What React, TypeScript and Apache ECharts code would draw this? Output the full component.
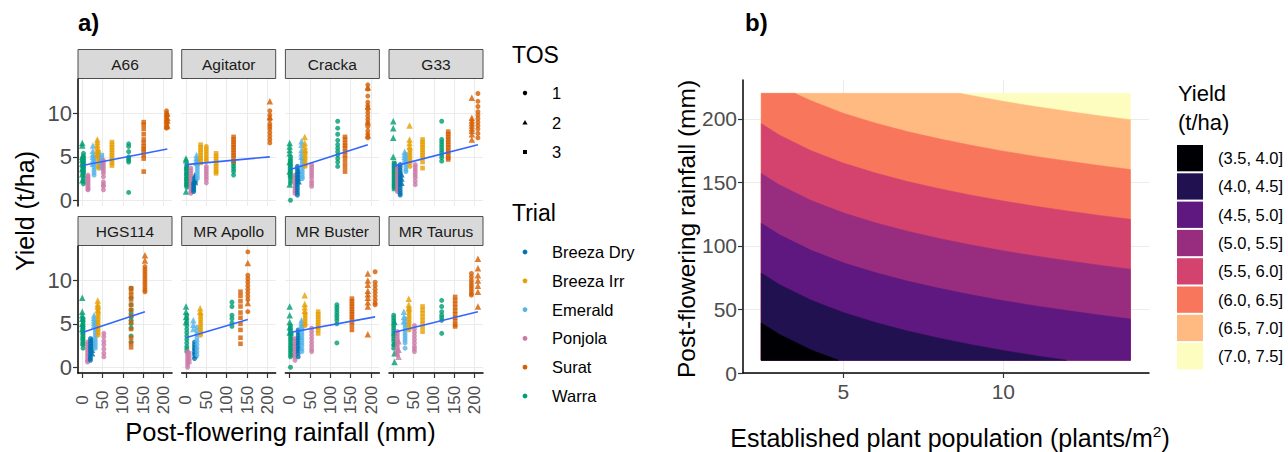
import React, { useEffect, useRef } from 'react';
import * as echarts from 'echarts';

// ---------------- DATA ----------------
const trials = ['Breeza Dry', 'Breeza Irr', 'Emerald', 'Ponjola', 'Surat', 'Warra'];
const trialColors = ['#0072B2', '#E69F00', '#56B4E9', '#CC79A7', '#D55E00', '#009E73'];
const tosLevels = ['1', '2', '3'];
const facetNames = ['A66', 'Agitator', 'Cracka', 'G33', 'HGS114', 'MR Apollo', 'MR Buster', 'MR Taurus'];
const rainTicks = [0, 50, 100, 150, 200];
const yieldTicks = [0, 5, 10];

// group: [trialIndex, TOS, post-flowering rainfall (mm), yields (t/ha)]
const a66 = [
  [5, 2, 0, [6.6, 6.3, 5.0, 4.7, 4.2, 3.6, 3.0, 2.3]],
  [5, 1, 3, [5.4, 5.1, 4.9, 4.7, 4.5, 4.3, 4.1, 3.9, 3.7, 3.5, 3.3, 3.1, 2.8, 2.5, 2.2, 1.9]],
  [5, 3, 1, [4.8, 4.4, 4.0, 3.6, 3.2]],
  [3, 1, 14, [2.9, 2.7, 2.5, 2.3, 2.1, 1.9, 1.7, 1.5, 1.3, 1.2]],
  [2, 2, 26, [6.3, 5.7, 5.3, 5.0, 4.6, 4.2]],
  [2, 1, 29, [5.0, 4.7, 4.4, 4.1, 3.8, 3.5, 3.2, 2.9]],
  [1, 2, 37, [7.0, 6.7, 6.4, 6.1, 5.8, 5.5, 5.2]],
  [1, 1, 40, [5.6, 5.3, 5.0, 4.8, 4.5, 4.2, 3.9, 3.7]],
  [2, 3, 48, [5.2, 4.9, 4.6, 4.3, 4.0, 3.7]],
  [3, 1, 52, [4.6, 4.3, 4.0, 3.7, 3.4, 3.1, 2.7, 2.1, 1.8, 1.6, 1.2]],
  [1, 3, 73, [6.7, 6.4, 6.1, 5.8, 5.5, 5.2, 4.9, 4.6, 4.3, 4.0]],
  [5, 1, 114, [6.5, 6.2, 5.6, 5.0, 4.8, 4.6, 4.4, 0.9]],
  [4, 3, 151, [9.0, 8.7, 8.2, 7.6, 7.0, 6.6, 6.2, 5.9, 5.6, 5.2, 4.8, 3.3]],
  [4, 1, 207, [10.3, 10.0, 9.7, 9.4, 9.1, 8.8, 8.5, 8.3]],
  [4, 2, 209, [10.0, 9.5, 9.2, 8.6]],
  [4, 3, 208, [9.8, 9.0, 8.4]],
];
const agitator = [
  [5, 2, 0, [4.8, 4.6, 1.0]],
  [5, 1, 2, [4.1, 3.9, 3.7, 3.5, 3.3, 3.1, 2.9, 2.7, 2.5, 2.3, 2.1, 1.9, 1.7, 1.5]],
  [5, 3, 1, [3.6, 3.0, 2.4, 1.8]],
  [3, 1, 12, [3.7, 3.4, 3.1, 2.8, 2.5, 2.2, 1.9, 1.6, 1.3, 1.0, 0.8]],
  [0, 1, 19, [2.0, 1.8, 1.6, 1.4, 1.2, 1.0]],
  [0, 2, 22, [2.9, 2.7, 2.5, 2.3, 2.1]],
  [2, 2, 26, [5.2, 4.9, 4.6, 4.3]],
  [2, 1, 28, [4.6, 4.3, 4.0, 3.7, 3.4, 3.1, 2.8, 2.5]],
  [1, 3, 36, [6.4, 6.1, 5.8, 5.5, 5.2, 4.9, 4.6, 4.3]],
  [1, 1, 50, [6.2, 5.9, 5.6, 5.3, 5.0, 4.7, 4.5]],
  [3, 1, 50, [3.9, 3.6, 3.3, 3.0, 2.7, 2.4, 2.0]],
  [1, 3, 74, [5.4, 5.1, 4.8, 4.5, 4.2, 3.9, 3.6, 3.3, 3.1]],
  [5, 1, 117, [4.5, 4.2, 3.9, 3.6, 3.3, 2.9]],
  [4, 3, 117, [7.3, 7.0, 6.7, 6.4, 6.1, 5.8, 5.5, 5.2, 4.9, 4.5]],
  [4, 2, 206, [11.4, 9.6]],
  [4, 1, 206, [10.3, 9.8, 9.3, 8.8, 8.5, 8.2, 7.8, 7.4, 7.0, 6.6]],
];
const cracka = [
  [5, 2, 0, [6.6, 6.2, 5.8, 5.4, 4.4, 3.3, 1.8]],
  [5, 1, 2, [5.0, 4.7, 4.4, 4.1, 3.8, 3.5, 3.2, 2.9, 2.6, 2.3, 2.0, 0.0]],
  [5, 3, 1, [4.5, 3.9, 3.4, 2.8]],
  [3, 1, 13, [2.9, 2.6, 2.3, 2.0, 1.7, 1.4, 1.1, 0.8]],
  [0, 1, 19, [3.9, 3.6, 3.3, 3.0, 2.7, 2.4, 2.1, 1.8, 1.5, 1.2, 0.9, 0.6]],
  [0, 2, 22, [3.4, 3.0, 2.6, 2.2]],
  [2, 2, 29, [6.8, 6.4, 5.8, 5.4, 5.0]],
  [2, 1, 31, [4.8, 4.5, 4.2, 3.9, 3.6, 3.3, 3.0, 2.7, 2.5]],
  [1, 2, 37, [7.3, 6.6, 6.2, 5.8]],
  [1, 1, 38, [5.6, 5.3, 5.0, 4.7, 4.4, 4.1, 3.9]],
  [3, 1, 54, [4.1, 3.8, 3.5, 3.2, 2.9, 2.6, 2.2, 1.9, 1.6]],
  [5, 1, 118, [9.1, 8.3, 7.6, 6.9, 6.4, 6.0, 5.6, 5.2, 4.8, 4.4, 3.9]],
  [4, 3, 136, [7.3, 7.0, 6.6, 6.3, 6.0, 5.6, 5.2, 4.8, 4.3, 3.8, 3.3]],
  [4, 1, 192, [13.3, 12.8, 12.0, 11.3, 10.9, 10.5, 10.1, 9.7, 9.3, 8.9, 8.5, 8.0, 7.6, 7.2]],
  [4, 2, 192, [13.0, 10.8, 9.0, 7.5]],
];
const g33 = [
  [5, 2, 0, [9.1, 8.3, 7.2, 5.0]],
  [5, 3, 2, [4.3, 4.0, 3.7, 3.4, 3.1, 2.8, 2.5, 2.2, 1.9, 1.6, 1.3]],
  [5, 1, 3, [4.2, 3.9, 3.6, 3.3, 3.0, 2.7, 2.4, 2.1, 1.8, 1.5]],
  [3, 1, 10, [3.9, 3.6, 3.3, 3.0, 2.7, 2.4, 2.1, 1.8, 1.5, 1.2, 1.0]],
  [0, 1, 17, [4.1, 3.8, 3.5, 3.2, 2.9, 2.6, 2.3, 2.0, 1.7, 1.4, 1.1, 0.8, 0.6]],
  [0, 2, 20, [3.0, 2.5, 2.0]],
  [2, 2, 28, [5.6, 5.3, 5.0, 4.7]],
  [2, 1, 31, [5.3, 5.0, 4.7, 4.4, 4.1, 3.8, 3.5, 3.3]],
  [1, 2, 40, [8.6, 7.0, 6.6, 6.2]],
  [1, 1, 41, [5.8, 5.5, 5.2, 4.9, 4.6, 4.3, 3.9]],
  [3, 1, 54, [4.1, 3.8, 3.5, 3.2, 2.9, 2.6, 2.2, 1.8]],
  [1, 3, 72, [7.0, 6.7, 6.4, 6.1, 5.8, 5.5, 5.2, 4.9, 4.4, 3.7]],
  [5, 1, 119, [9.1, 7.0, 6.7, 6.4, 6.1, 5.8, 5.5, 5.2, 4.9, 4.5]],
  [4, 3, 135, [7.9, 7.6, 7.3, 7.0, 6.7, 6.4, 6.1, 5.8, 5.5, 5.2, 4.9, 4.7]],
  [4, 2, 193, [11.8, 9.5, 9.2, 8.9, 8.6, 8.3, 8.0, 7.6, 7.0]],
  [4, 1, 208, [12.3, 11.4, 10.8, 10.2, 9.8, 9.4, 9.0, 8.6, 8.2, 7.7, 7.2]],
];
const hgs114 = [
  [5, 2, 0, [8.0, 6.4, 6.0, 5.6, 5.0, 4.4]],
  [5, 1, 2, [5.6, 5.3, 5.0, 4.7, 4.4, 4.1, 3.8, 3.5, 3.2, 2.9, 2.6, 2.2]],
  [5, 3, 1, [4.6, 3.9, 3.3, 2.7]],
  [3, 1, 13, [2.9, 2.6, 2.3, 2.0, 1.7, 1.4, 1.1, 0.8, 0.6]],
  [0, 1, 20, [3.3, 3.0, 2.7, 2.4, 2.1, 1.8, 1.5, 1.2, 1.0, 0.8]],
  [0, 2, 24, [3.2, 2.8, 2.4, 2.0, 1.6]],
  [2, 2, 29, [6.0, 5.7, 5.4, 5.1, 4.8]],
  [2, 1, 32, [5.2, 4.9, 4.6, 4.3, 4.0, 3.7, 3.4, 3.1, 2.8, 2.5, 2.2]],
  [1, 2, 38, [7.7, 7.3, 7.0, 6.6]],
  [1, 1, 39, [6.8, 6.4, 6.1, 5.8, 5.5, 5.2, 4.9, 4.6, 4.3, 4.0, 3.7]],
  [3, 1, 53, [3.9, 3.5, 3.0, 2.6, 2.1, 1.6, 1.2]],
  [5, 1, 120, [9.1, 8.0, 7.2, 6.6, 6.2, 5.8, 5.4, 5.0, 4.5, 3.6, 2.9]],
  [4, 3, 120, [9.1, 8.7, 8.3, 7.8, 7.2, 6.6, 5.9, 5.2, 4.4, 3.4, 2.8, 2.3]],
  [4, 2, 154, [12.9, 12.3]],
  [4, 1, 154, [11.6, 11.3, 11.0, 10.7, 10.4, 10.1, 9.8, 9.5, 9.2, 8.9, 8.7]],
];
const mrApollo = [
  [5, 2, 0, [7.0, 6.4, 5.8, 5.2]],
  [5, 1, 2, [6.0, 5.6, 5.2, 4.8, 4.4, 4.0, 3.6, 3.2, 2.8, 2.4, 2.1, 1.8]],
  [3, 1, 4, [1.8, 1.5, 1.2, 0.9, 0.6, 0.3, 0.0]],
  [3, 3, 8, [1.6, 1.1, 0.6]],
  [0, 1, 21, [2.9, 2.6, 2.3, 2.0, 1.7, 1.4, 1.0]],
  [0, 2, 23, [2.4, 1.9, 1.4]],
  [2, 2, 18, [5.4, 4.9, 4.4]],
  [2, 1, 27, [4.6, 4.2, 3.8, 3.4, 3.0, 2.6, 2.2, 1.8, 1.4]],
  [1, 2, 35, [6.8, 6.4]],
  [1, 1, 36, [6.1, 5.8, 5.5, 5.2, 4.9, 4.6, 4.3, 4.0, 3.7]],
  [5, 1, 113, [7.5, 7.0, 6.0, 5.6, 5.1, 4.7]],
  [4, 3, 134, [8.7, 8.2, 7.6, 7.0, 6.3, 5.7, 5.0, 4.3, 3.4, 2.7]],
  [4, 1, 152, [13.3, 10.6, 10.2, 9.8, 9.4, 9.0, 8.6, 8.2, 7.8, 6.4]],
  [4, 2, 152, [12.0, 7.4]],
];
const mrBuster = [
  [5, 2, 0, [7.0, 6.0, 5.2, 4.6, 4.0]],
  [5, 1, 2, [4.8, 4.5, 4.2, 3.9, 3.6, 3.3, 3.0, 2.7, 2.4, 2.1, 1.8, 1.5, 1.2, 0.0]],
  [5, 3, 4, [3.8, 3.2, 2.6, 2.0, 1.4]],
  [3, 1, 13, [3.3, 3.0, 2.7, 2.4, 2.1, 1.8, 1.5, 1.2, 0.8]],
  [0, 1, 21, [4.3, 4.0, 3.7, 3.4, 3.1, 2.8, 2.5, 2.2, 1.9, 1.6, 1.2]],
  [0, 2, 24, [3.5, 2.9, 2.3]],
  [2, 2, 29, [5.4, 5.1, 4.8]],
  [2, 1, 30, [4.6, 4.3, 4.0, 3.7, 3.4, 3.1, 2.8, 2.5, 2.1, 1.8]],
  [1, 2, 37, [8.3, 7.3, 6.9, 6.5]],
  [1, 1, 38, [6.2, 5.9, 5.6, 5.3, 5.0, 4.8]],
  [3, 1, 54, [4.5, 4.1, 3.7, 3.3, 2.9, 2.5, 2.1, 1.8]],
  [1, 3, 70, [6.4, 6.1, 5.8, 5.5, 5.2, 4.9, 4.6, 4.3, 3.9]],
  [5, 1, 116, [7.2, 6.9, 6.6, 6.3, 6.0, 5.7, 5.4, 5.0, 2.8]],
  [4, 3, 153, [7.9, 7.6, 7.3, 7.0, 6.7, 6.4, 6.1, 5.8, 5.5, 5.2, 4.8, 4.3]],
  [4, 2, 192, [10.8, 10.0, 9.5, 8.8, 8.4, 8.0, 7.5, 7.0, 3.8]],
  [4, 1, 210, [11.0, 9.8, 9.4, 9.0, 8.6, 8.2, 7.8, 7.4, 7.2]],
];
const mrTaurus = [
  [5, 1, 1, [6.0, 5.7, 5.4, 5.1, 4.8, 4.5, 4.2, 3.9, 3.6, 3.3, 3.0, 2.6, 2.2]],
  [5, 2, 3, [5.2, 4.0, 2.8, 1.6, 0.6]],
  [3, 1, 10, [4.1, 3.8, 3.5, 3.2, 2.9, 2.6, 2.3, 2.0, 1.7, 1.4]],
  [3, 2, 13, [3.0, 2.0, 1.2]],
  [2, 2, 26, [6.4, 5.8, 5.3]],
  [2, 1, 29, [5.6, 5.2, 4.9, 4.6, 4.3, 4.0, 3.7, 3.4, 3.1, 2.8, 2.2]],
  [1, 2, 38, [7.9, 7.2, 6.8]],
  [1, 1, 39, [6.7, 6.4, 6.1, 5.8, 5.5, 5.2, 4.9, 4.6, 4.3]],
  [3, 1, 52, [4.8, 4.4, 4.0, 3.6, 3.2, 2.8, 2.4, 2.1, 1.8]],
  [1, 3, 72, [7.0, 6.6, 6.2, 5.8, 5.4, 5.0, 4.6, 4.1]],
  [5, 1, 119, [7.7, 7.0, 6.4, 6.0, 5.7, 5.4, 3.9]],
  [4, 3, 152, [8.1, 7.7, 7.3, 6.9, 6.5, 6.1, 5.7, 5.3, 4.9, 4.7]],
  [4, 1, 192, [10.8, 10.4, 10.0, 9.7, 9.4, 9.1, 8.8, 8.5, 8.3]],
  [4, 2, 208, [12.5, 11.4, 10.6, 10.0, 9.4, 8.7, 7.0]],
];
const facetGroups: any[] = [a66, agitator, cracka, g33, hgs114, mrApollo, mrBuster, mrTaurus];
// linear fit per facet: [xStart, yStart, xEnd, yEnd]
const trendLines = [
  [0, 4.0, 209, 5.9],
  [0, 4.1, 206, 5.0],
  [0, 3.5, 192, 6.4],
  [0, 3.9, 208, 6.4],
  [0, 4.0, 154, 6.4],
  [0, 3.4, 152, 5.5],
  [0, 4.0, 210, 5.8],
  [0, 4.0, 208, 6.4],
];

// panel b
const popTicks = [5, 10];
const rainTicksB = [0, 50, 100, 150, 200];
const yieldBands = ['(3.5, 4.0]', '(4.0, 4.5]', '(4.5, 5.0]', '(5.0, 5.5]', '(5.5, 6.0]', '(6.0, 6.5]', '(6.5, 7.0]', '(7.0, 7.5]'];
const bandColors = ['#000004', '#221150', '#5F187F', '#982D80', '#D3436E', '#F8765C', '#FEBA80', '#FCFDBF'];
const popRange = [2.44, 13.97];
const rainRange = [10, 220];
// contour boundaries [population, rainfall] for levels 4.0 ... 7.0
const boundary40 = [[2.44, 39.4], [3, 30.5], [4, 18.1], [4.85, 10]];
const boundary45 = [[2.44, 78.6], [3, 69.7], [4, 57.3], [5, 47.6], [6, 39.8], [7, 33.1], [8, 27.4], [9, 22.3], [10, 17.7], [11, 13.6], [11.97, 10]];
const boundary50 = [[2.44, 117.8], [3, 108.9], [4, 96.5], [5, 86.8], [6, 79.0], [7, 72.3], [8, 66.6], [9, 61.5], [10, 56.9], [11, 52.8], [12, 49.1], [13, 45.6], [13.97, 42.5]];
const boundary55 = [[2.44, 157.0], [3, 148.1], [4, 135.7], [5, 126.0], [6, 118.2], [7, 111.5], [8, 105.8], [9, 100.7], [10, 96.1], [11, 92.0], [12, 88.3], [13, 84.8], [13.97, 81.7]];
const boundary60 = [[2.44, 196.2], [3, 187.3], [4, 174.9], [5, 165.2], [6, 157.4], [7, 150.7], [8, 145.0], [9, 139.9], [10, 135.3], [11, 131.2], [12, 127.5], [13, 124.0], [13.97, 120.9]];
const boundary65 = [[3.49, 220], [4, 214.1], [5, 204.4], [6, 196.6], [7, 189.9], [8, 184.2], [9, 179.1], [10, 174.5], [11, 170.4], [12, 166.7], [13, 163.2], [13.97, 160.1]];
const boundary70 = [[8.65, 220], [9, 218.3], [10, 213.7], [11, 209.6], [12, 205.9], [13, 202.4], [13.97, 199.3]];
const boundaries = [boundary40, boundary45, boundary50, boundary55, boundary60, boundary65, boundary70];

// ---------------- LAYOUT ----------------
const FONT = "'Liberation Sans', Arial, Helvetica, sans-serif";
const COL_LEFT = [78, 181.7, 285.4, 389];
const ROW_TOP = [79, 246];
const PANEL_W = 94;
const PANEL_H = 127;
const STRIP_H = 29;
const RAIN_MIN = -10.5, RAIN_MAX = 220.5;
const YIELD_MIN = -0.665, YIELD_MAX = 13.97;
const SYMBOLS = ['circle', 'triangle', 'rect'];
const SIZES = [5, 6.5, 4.6];

function regionBelow(b: number[][]) {
  const pts: number[][] = [[popRange[0], rainRange[0]]];
  if (b[0][0] > popRange[0]) pts.push([popRange[0], rainRange[1]]);
  b.forEach((p) => pts.push(p));
  const last = b[b.length - 1];
  if (last[0] >= popRange[1]) pts.push([popRange[1], rainRange[0]]);
  return pts;
}

function buildOption() {
  const grids: any[] = [];
  const xAxes: any[] = [];
  const yAxes: any[] = [];
  const series: any[] = [];
  const graphics: any[] = [];

  facetNames.forEach((name, i) => {
    const col = i % 4;
    const row = Math.floor(i / 4);
    const left = COL_LEFT[col];
    const top = ROW_TOP[row];
    const isBottom = row === 1;
    const isLeft = col === 0;
    grids.push({ left, top, width: PANEL_W, height: PANEL_H, outerBoundsMode: 'none' });
    xAxes.push({
      type: 'value', gridIndex: i, min: RAIN_MIN, max: RAIN_MAX,
      axisLine: { show: isBottom, onZero: false, lineStyle: { color: '#000', width: 1.5 } },
      axisTick: { show: isBottom, customValues: rainTicks, length: 5, lineStyle: { color: '#333', width: 1.2 } },
      axisLabel: {
        show: isBottom, customValues: rainTicks, rotate: 90, align: 'center', verticalAlign: 'middle',
        fontSize: 17, color: '#4D4D4D', fontFamily: FONT, margin: 27,
      },
      splitLine: { show: true, lineStyle: { color: '#EBEBEB', width: 1 } },
    });
    yAxes.push({
      type: 'value', gridIndex: i, min: YIELD_MIN, max: YIELD_MAX,
      axisLine: { show: isLeft, onZero: false, lineStyle: { color: '#000', width: 1.5 } },
      axisTick: { show: isLeft, customValues: yieldTicks, length: 5, lineStyle: { color: '#333', width: 1.2 } },
      axisLabel: { show: isLeft, customValues: yieldTicks, fontSize: 22, color: '#4D4D4D', fontFamily: FONT, margin: 6 },
      splitLine: { show: true, lineStyle: { color: '#EBEBEB', width: 1 } },
    });
    const items: any[] = [];
    facetGroups[i].forEach(([t, s, x, ys]: any) => {
      ys.forEach((y: number) => {
        items.push({ value: [x, y], symbol: SYMBOLS[s - 1], symbolSize: SIZES[s - 1], itemStyle: { color: trialColors[t] } });
      });
    });
    series.push({ type: 'scatter', xAxisIndex: i, yAxisIndex: i, data: items, silent: true, z: 2 });
    const tl = trendLines[i];
    series.push({
      type: 'line', xAxisIndex: i, yAxisIndex: i, data: [[tl[0], tl[1]], [tl[2], tl[3]]],
      symbol: 'none', lineStyle: { color: '#3366FF', width: 1.6 }, silent: true, z: 3,
    });
    // strip
    graphics.push({
      type: 'rect', shape: { x: left, y: top - STRIP_H - 0.5, width: PANEL_W, height: STRIP_H },
      style: { fill: '#D9D9D9', stroke: '#4D4D4D', lineWidth: 1 }, silent: true,
    });
    graphics.push({
      type: 'text', x: left + PANEL_W / 2, y: top - STRIP_H / 2 - 0.5,
      style: { text: name, fontSize: 15.5, fontFamily: FONT, fill: '#1A1A1A', align: 'center', verticalAlign: 'middle' }, silent: true,
    });
  });

  // panel b
  const bi = 8;
  grids.push({ left: 743, top: 80, width: 406, height: 293, outerBoundsMode: 'none' });
  xAxes.push({
    type: 'value', gridIndex: bi, min: 1.87, max: 14.55,
    axisLine: { show: true, onZero: false, lineStyle: { color: '#000', width: 1.5 } },
    axisTick: { show: true, customValues: popTicks, length: 5, lineStyle: { color: '#333', width: 1.2 } },
    axisLabel: { show: true, customValues: popTicks, fontSize: 21, color: '#4D4D4D', fontFamily: FONT, margin: 8 },
    splitLine: { show: true, lineStyle: { color: '#EBEBEB', width: 1 } },
  });
  yAxes.push({
    type: 'value', gridIndex: bi, min: 0, max: 230.5,
    axisLine: { show: true, onZero: false, lineStyle: { color: '#000', width: 1.5 } },
    axisTick: { show: true, customValues: rainTicksB, length: 5, lineStyle: { color: '#333', width: 1.2 } },
    axisLabel: { show: true, customValues: rainTicksB, fontSize: 21, color: '#4D4D4D', fontFamily: FONT, margin: 6 },
    splitLine: { show: true, lineStyle: { color: '#EBEBEB', width: 1 } },
  });
  const polys: { pts: number[][]; color: string }[] = [];
  polys.push({
    pts: [[popRange[0], rainRange[0]], [popRange[0], rainRange[1]], [popRange[1], rainRange[1]], [popRange[1], rainRange[0]]],
    color: bandColors[bandColors.length - 1],
  });
  for (let k = boundaries.length - 1; k >= 0; k--) {
    polys.push({ pts: regionBelow(boundaries[k]), color: bandColors[k] });
  }
  series.push({
    type: 'custom', xAxisIndex: bi, yAxisIndex: bi, silent: true, clip: true,
    data: polys.map((_, i) => [popRange[0], rainRange[0], i]),
    renderItem: (params: any, api: any) => {
      const p = polys[params.dataIndex];
      return {
        type: 'polygon',
        shape: { points: p.pts.map((q) => api.coord(q)) },
        style: { fill: p.color, stroke: p.color, lineWidth: 0.5 },
      };
    },
  });

  // titles
  graphics.push({ type: 'text', x: 78, y: 22, style: { text: 'a)', fontSize: 24, fontWeight: 'bold', fontFamily: FONT, fill: '#000', verticalAlign: 'middle' } });
  graphics.push({ type: 'text', x: 745, y: 22, style: { text: 'b)', fontSize: 24, fontWeight: 'bold', fontFamily: FONT, fill: '#000', verticalAlign: 'middle' } });
  graphics.push({ type: 'text', x: 280.5, y: 432, style: { text: 'Post-flowering rainfall (mm)', fontSize: 25.5, fontFamily: FONT, fill: '#000', align: 'center', verticalAlign: 'middle' } });
  graphics.push({ type: 'text', x: 25, y: 211, rotation: Math.PI / 2, style: { text: 'Yield (t/ha)', fontSize: 25, fontFamily: FONT, fill: '#000', align: 'center', verticalAlign: 'middle' } });
  graphics.push({ type: 'text', x: 686, y: 229, rotation: Math.PI / 2, style: { text: 'Post-flowering rainfall (mm)', fontSize: 24.5, fontFamily: FONT, fill: '#000', align: 'center', verticalAlign: 'middle' } });
  graphics.push({
    type: 'text', x: 950, y: 438,
    style: {
      text: '{a|Established plant population (plants/m}{s|2}{a|)}',
      align: 'center', verticalAlign: 'middle', fontFamily: FONT, fill: '#000',
      rich: {
        a: { fontSize: 25, fontFamily: FONT, fill: '#000', lineHeight: 30 },
        s: { fontSize: 15.5, fontFamily: FONT, fill: '#000', lineHeight: 18, verticalAlign: 'top' },
      },
    },
  });

  // legend a: TOS
  graphics.push({ type: 'text', x: 512, y: 55, style: { text: 'TOS', fontSize: 23, fontFamily: FONT, fill: '#000', verticalAlign: 'middle' } });
  const tosY = [93, 122.5, 152];
  tosLevels.forEach((lab, k) => {
    const y = tosY[k];
    if (k === 0) graphics.push({ type: 'circle', shape: { cx: 525, cy: y, r: 2.2 }, style: { fill: '#000' } });
    if (k === 1) graphics.push({ type: 'polygon', shape: { points: [[525, y - 2.6], [527.6, y + 1.9], [522.4, y + 1.9]] }, style: { fill: '#000' } });
    if (k === 2) graphics.push({ type: 'rect', shape: { x: 523, y: y - 2, width: 4, height: 4 }, style: { fill: '#000' } });
    graphics.push({ type: 'text', x: 552, y, style: { text: lab, fontSize: 16.5, fontFamily: FONT, fill: '#000', verticalAlign: 'middle' } });
  });
  // legend a: Trial
  graphics.push({ type: 'text', x: 512, y: 213, style: { text: 'Trial', fontSize: 23, fontFamily: FONT, fill: '#000', verticalAlign: 'middle' } });
  trials.forEach((lab, k) => {
    const y = 252 + k * 28.8;
    graphics.push({ type: 'circle', shape: { cx: 525, cy: y, r: 2.4 }, style: { fill: trialColors[k] } });
    graphics.push({ type: 'text', x: 552, y, style: { text: lab, fontSize: 16.5, fontFamily: FONT, fill: '#000', verticalAlign: 'middle' } });
  });

  // legend b
  graphics.push({ type: 'text', x: 1178, y: 93, style: { text: 'Yield', fontSize: 22, fontFamily: FONT, fill: '#000', verticalAlign: 'middle' } });
  graphics.push({ type: 'text', x: 1178, y: 122, style: { text: '(t/ha)', fontSize: 22, fontFamily: FONT, fill: '#000', verticalAlign: 'middle' } });
  yieldBands.forEach((lab, k) => {
    const y = 145 + k * 28.3;
    graphics.push({ type: 'rect', shape: { x: 1177, y, width: 26, height: 26.3 }, style: { fill: bandColors[k] } });
    graphics.push({ type: 'text', x: 1218, y: y + 13, style: { text: lab, fontSize: 16.5, fontFamily: FONT, fill: '#000', verticalAlign: 'middle' } });
  });

  return {
    animation: false,
    backgroundColor: '#FFFFFF',
    grid: grids,
    xAxis: xAxes,
    yAxis: yAxes,
    series,
    graphic: { elements: graphics },
  };
}

export default function App() {
  const ref = useRef<HTMLDivElement>(null);
  useEffect(() => {
    if (!ref.current) return;
    const chart = echarts.init(ref.current, null, { renderer: 'svg' });
    chart.setOption(buildOption() as any);
    return () => chart.dispose();
  }, []);
  return <div ref={ref} style={{ position: 'absolute', left: 0, top: 0, width: 1288, height: 452 }} />;
}
